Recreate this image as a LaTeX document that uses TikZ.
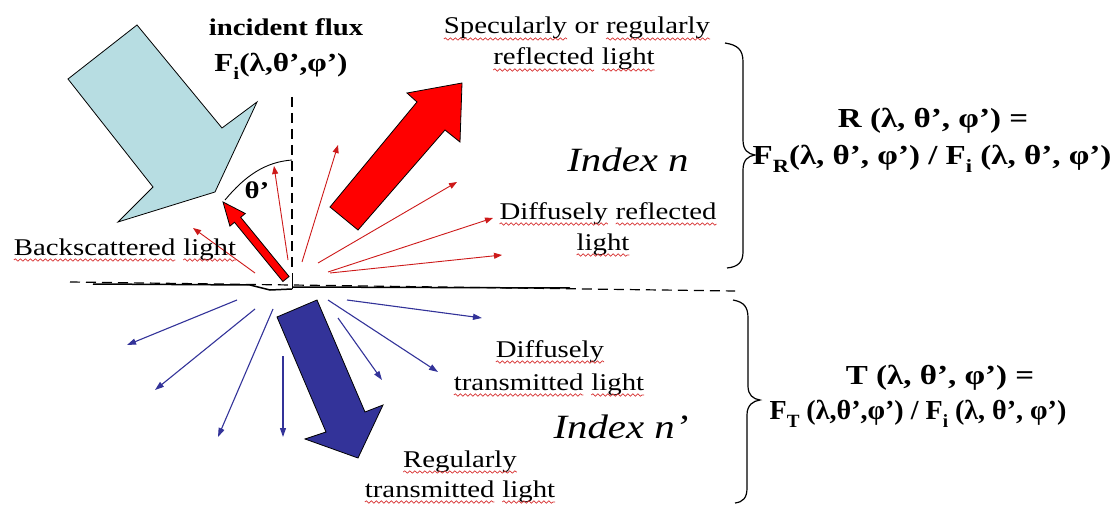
\documentclass[tikz,border=0pt]{standalone}
\usepackage{fontspec}
\setmainfont[FakeStretch=1.2]{Liberation Serif}
\usetikzlibrary{arrows.meta,decorations.pathmorphing}
\definecolor{sqred}{RGB}{215,50,50}
\definecolor{navyb}{RGB}{51,51,153}
\definecolor{incblue}{RGB}{183,221,226}
\definecolor{thinr}{RGB}{205,25,25}
\newcommand\sq[1]{\tikz[baseline=(sqw.base)]{\node[inner sep=0pt,outer sep=0pt] (sqw) {#1};
  \draw[sqred, line width=0.7pt, decorate, decoration={snake, amplitude=1.2pt, segment length=5pt}] ([yshift=-5pt]sqw.base west) -- ([yshift=-5pt]sqw.base east);}}
\newcommand\sub[1]{\raisebox{-0.28em}{\fontsize{0.68em}{1em}\selectfont #1}}
\tikzset{
  txt/.style={inner sep=0pt, text height=17pt, text depth=5pt, font=\fontsize{24}{28}\selectfont},
  bld/.style={inner sep=0pt, text height=17pt, text depth=5pt, font=\fontsize{24}{28}\selectfont\bfseries},
  bldbig/.style={inner sep=0pt, text height=19pt, text depth=6pt, font=\fontsize{27.5}{32}\selectfont\bfseries},
  idx/.style={inner sep=0pt, text height=24pt, text depth=7pt, font=\fontsize{34}{38}\selectfont\itshape},
  redthin/.style={draw=thinr, line width=0.9pt, -{Triangle[length=8pt,width=6pt]}},
  bluethin/.style={draw=navyb, line width=1.1pt, -{Triangle[length=9pt,width=6pt]}},
  blockarr/.style={draw=black, line width=0.8pt, line join=miter},
  dashln/.style={dash pattern=on 10pt off 6pt, line width=1.2pt},
  bracestyle/.style={draw=black, line width=1.2pt}
}
\begin{document}
\begin{tikzpicture}[x=1pt,y=-1pt]
\useasboundingbox (0,0) rectangle (1113,505);

% incident flux arrow
\path[blockarr, fill=incblue] (137,25) -- (222,128) -- (257,102) -- (215,192) -- (118,222) -- (153,187) -- (68,79) -- cycle;

% surface
\draw[dashln] (70,282) -- (735,291);
\draw[line width=1.5pt] (93,284) -- (250,285) -- (270,290) -- (292,289);
\draw[line width=1.5pt] (292,287) -- (570,288);
\draw[line width=0.8pt] (292,273) -- (292,289);

% normal and angle arc
\draw[dashln] (292,97) -- (292,272);
\draw[line width=0.9pt] (225,200) .. controls (245,176) and (265,162) .. (292,160);

% thin red arrows (reflected)
\draw[redthin] (255,273) -- (193,228);
\draw[redthin] (288,260) -- (274,166);
\draw[redthin] (302,262) -- (338,145);
\draw[redthin] (318,263) -- (457,182);
\draw[redthin] (328,272) -- (493,218);
\draw[redthin] (330,273) -- (502,255);

% backscattered block arrow
\path[blockarr, fill=red] (289.1,276.5) -- (240.7,217.3) -- (245.3,213.5) -- (223,202) -- (229.9,226.1) -- (234.5,222.3) -- (282.9,281.5) -- cycle;

% specular block arrow
\path[blockarr, fill=red] (330,207) -- (417,102) -- (407,93) -- (462,83) -- (460,142) -- (445,130) -- (358,230) -- cycle;

% thin blue arrows (transmitted)
\draw[bluethin] (237,300) -- (127,345);
\draw[bluethin] (255,309) -- (155,390);
\draw[bluethin] (273,309) -- (218,437);
\draw[bluethin] (283,356) -- (283,437);
\draw[bluethin] (347,300) -- (482,318);
\draw[bluethin] (328,300) -- (438,372);
\draw[bluethin] (338,318) -- (382,380);

% regular transmitted block arrow
\path[blockarr, fill=navyb] (277,317) -- (317,300) -- (365,412) -- (383,405) -- (358,458) -- (305,439) -- (326,432) -- cycle;

% braces
\draw[bracestyle] (725,43) .. controls (738,45) and (743,50) .. (743,62) -- (743,140)
  .. controls (743,150) and (748,154) .. (755,155) .. controls (748,156) and (743,160) .. (743,170)
  -- (743,252) .. controls (743,262) and (738,267) .. (727,268);
\draw[bracestyle] (733,300) .. controls (744,302) and (748,307) .. (748,318) -- (748,386)
  .. controls (748,395) and (753,399) .. (760,400) .. controls (753,401) and (747,405) .. (747,415)
  -- (747,488) .. controls (747,498) and (743,502) .. (735,503);

% texts
\node[bld] (incflux) at (286,30) {incident flux};
\node[bld, font=\fontsize{26}{30}\selectfont\bfseries] (fi) at (281,66) {F\sub{i}(λ,θ’,φ’)};
\node[bld] (theta) at (257,192) {θ’};
\node[txt] (spec1) at (577,28) {\sq{Specularly} or \sq{regularly}};
\node[txt] (spec2) at (574,59) {\sq{reflected} \sq{light}};
\node[idx] (idxn) at (628,163) {Index n};
\node[txt] (dref1) at (608,213) {\sq{Diffusely} \sq{reflected}};
\node[txt] (dref2) at (603,244) {\sq{light}};
\node[txt] (back) at (125,249) {\sq{Backscattered} \sq{light}};
\node[txt] (dtr1) at (550,351) {\sq{Diffusely}};
\node[txt] (dtr2) at (549,384) {\sq{transmitted} \sq{light}};
\node[idx] (idxn2) at (621,430) {Index n’};
\node[txt] (reg1) at (460,461) {\sq{Regularly}};
\node[txt] (reg2) at (460,491) {\sq{transmitted} \sq{light}};
\node[bldbig] (r1) at (933,121) {R (λ, θ’, φ’) =};
\node[bldbig] (r2) at (932,158) {F\sub{R}(λ, θ’, φ’) / F\sub{i} (λ, θ’, φ’)};
\node[bldbig] (t1) at (940,378) {T (λ, θ’, φ’) =};
\node[bldbig] (t2) at (918,413) {\scalebox{0.85}[1]{F\sub{T} (λ,θ’,φ’) / F\sub{i} (λ, θ’, φ’)}};
\end{tikzpicture}
\end{document}
